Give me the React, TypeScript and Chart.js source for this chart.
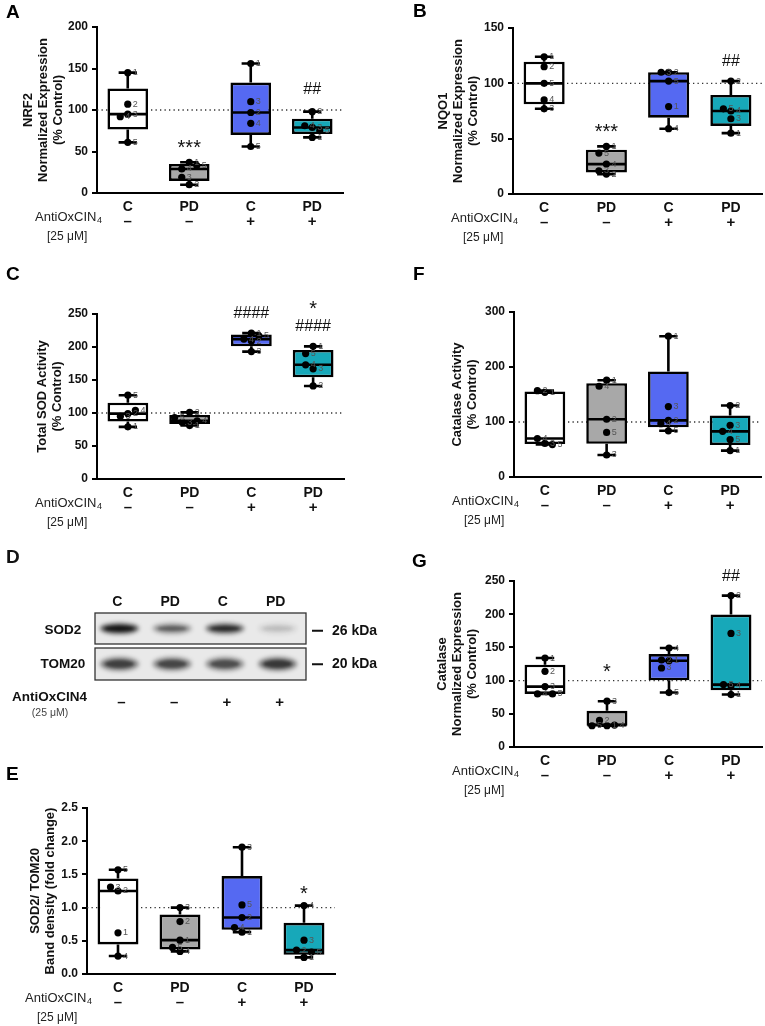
import React, { useEffect, useRef } from 'react';
import { Chart, registerables } from 'chart.js';

Chart.register(...registerables);

const FONT = '"Liberation Sans", Arial, Helvetica, sans-serif';

// ---------- shared categories ----------
const categories = ['C', 'PD', 'C', 'PD'];
const treatment = ['–', '–', '+', '+'];
const boxColors = ['#FFFFFF', '#A8A8A8', '#5569F2', '#17A8B9'];

// ---------- A: NRF2 normalized expression (% control), samples 1..5 ----------
const nrf2C = [145, 107, 95, 92, 61];
const nrf2PD = [37, 10, 19, 29, 33];
const nrf2CAox = [156, 97, 110, 84, 56];
const nrf2PDAox = [67, 98, 79, 81, 75];
const nrf2Marks = [
  { group: 1, text: '***', value: 60 },
  { group: 3, text: '##', value: 124 },
];

// ---------- B: NQO1 normalized expression ----------
const nqo1C = [124, 115, 77, 85, 100];
const nqo1PD = [43, 18, 21, 27, 37];
const nqo1CAox = [79, 110, 110, 59, 102];
const nqo1PDAox = [55, 102, 68, 75, 77];
const nqo1Marks = [
  { group: 1, text: '***', value: 60 },
  { group: 3, text: '##', value: 120 },
];

// ---------- C: Total SOD activity ----------
const sodC = [79, 99, 95, 104, 127];
const sodPD = [81, 101, 86, 88, 93];
const sodCAox = [221, 209, 193, 212, 217];
const sodPDAox = [201, 141, 167, 173, 190];
const sodMarks = [
  { group: 2, text: '####', value: 250 },
  { group: 3, text: '*', value: 264 },
  { group: 3, text: '####', value: 231 },
];

// ---------- F: Catalase activity ----------
const catC = [154, 157, 61, 70, 59];
const catPD = [176, 105, 40, 165, 81];
const catCAox = [256, 103, 128, 97, 84];
const catPDAox = [48, 130, 94, 83, 68];
const catMarks: any[] = [];

// ---------- G: Catalase normalized expression ----------
const catExpC = [134, 114, 91, 80, 80];
const catExpPD = [32, 40, 69, 33, 32];
const catExpCAox = [130, 131, 119, 149, 82];
const catExpPDAox = [79, 228, 171, 92, 94];
const catExpMarks = [
  { group: 1, text: '*', value: 120 },
  { group: 3, text: '##', value: 257 },
];

// ---------- E: SOD2 / TOM20 band density (fold change) ----------
const sod2C = [0.62, 1.25, 1.31, 0.27, 1.57];
const sod2PD = [0.51, 0.79, 1.0, 0.34, 0.4];
const sod2CAox = [0.63, 0.85, 1.91, 0.7, 1.04];
const sod2PDAox = [0.25, 0.36, 0.51, 1.03, 0.33];
const sod2Marks = [{ group: 3, text: '*', value: 1.28 }];

// ---------- D: western blot ----------
const blotLanes = ['C', 'PD', 'C', 'PD'];
const blotTreatment = ['–', '–', '+', '+'];
const blotRows = ['SOD2', 'TOM20'];
const blotMarkers = ['26 kDa', '20 kDa'];
const sod2Band = [1.0, 0.5, 0.8, 0.13];
const tom20Band = [0.66, 0.62, 0.58, 0.7];

// ---------- helpers ----------
function quartile(sorted: number[], p: number) {
  const n = sorted.length;
  const pos = (n + 1) * p;
  if (pos <= 1) return sorted[0];
  if (pos >= n) return sorted[n - 1];
  const lo = Math.floor(pos);
  return sorted[lo - 1] + (pos - lo) * (sorted[lo] - sorted[lo - 1]);
}

function boxStats(values: number[]) {
  const s = [...values].sort((a, b) => a - b);
  return {
    min: s[0],
    q1: quartile(s, 0.25),
    med: quartile(s, 0.5),
    q3: quartile(s, 0.75),
    max: s[s.length - 1],
  };
}

function swarm(cx: number, ys: number[], d: number) {
  const placed: number[][] = [];
  return ys.map((py) => {
    const steps = [0, -1, 1, -2, 2, -3, 3];
    for (const k of steps) {
      const px = cx + k * d;
      if (placed.every((p) => Math.hypot(p[0] - px, p[1] - py) >= d)) {
        placed.push([px, py]);
        return px;
      }
    }
    placed.push([cx, py]);
    return cx;
  });
}

function drawMark(ctx: any, text: string, x: number, y: number) {
  ctx.save();
  ctx.fillStyle = '#111';
  ctx.textAlign = 'center';
  ctx.textBaseline = 'middle';
  if (text.includes('*')) {
    ctx.font = `20px ${FONT}`;
    ctx.fillText(text, x, y + 5);
  } else {
    ctx.font = `16px ${FONT}`;
    ctx.fillText(text, x, y);
  }
  ctx.restore();
}

type Spec = {
  frame: { x: number; y: number; w: number; h: number };
  area: { left: number; top: number; right: number; bottom: number };
  yMax: number;
  yStep: number;
  decimals: number;
  reference: number;
  title: string[];
  titleCenter: number;
  groups: number[][];
  marks: { group: number; text: string; value: number }[];
  letter: string;
  letterPos: [number, number];
};

function makeBoxConfig(spec: Spec): any {
  const stats = spec.groups.map(boxStats);
  const { frame, area } = spec;
  const titleLH = 15;
  const plugin = {
    id: 'boxExtras',
    beforeDatasetsDraw(chart: any) {
      const { ctx, chartArea, scales } = chart;
      const yy = scales.y.getPixelForValue(spec.reference);
      ctx.save();
      ctx.strokeStyle = '#333';
      ctx.lineWidth = 1.3;
      ctx.setLineDash([1.3, 3.2]);
      ctx.beginPath();
      ctx.moveTo(chartArea.left, yy);
      ctx.lineTo(chartArea.right, yy);
      ctx.stroke();
      ctx.restore();
    },
    afterDatasetsDraw(chart: any) {
      const { ctx, scales } = chart;
      const meta = chart.getDatasetMeta(0);
      stats.forEach((s, i) => {
        const bar = meta.data[i];
        const cx = bar.x;
        const half = bar.width / 2;
        const cap = half * 0.45;
        const y = (v: number) => scales.y.getPixelForValue(v);
        ctx.save();
        ctx.strokeStyle = '#000';
        ctx.lineWidth = 2.6;
        ctx.lineCap = 'butt';
        ctx.beginPath();
        ctx.moveTo(cx, y(s.q3));
        ctx.lineTo(cx, y(s.max));
        ctx.moveTo(cx - cap, y(s.max));
        ctx.lineTo(cx + cap, y(s.max));
        ctx.moveTo(cx, y(s.q1));
        ctx.lineTo(cx, y(s.min));
        ctx.moveTo(cx - cap, y(s.min));
        ctx.lineTo(cx + cap, y(s.min));
        ctx.moveTo(cx - half + 1, y(s.med));
        ctx.lineTo(cx + half - 1, y(s.med));
        ctx.stroke();
        // points
        const vals = spec.groups[i];
        const pys = vals.map((v) => y(v));
        const pxs = swarm(cx, pys, 7.5);
        pys.forEach((py, k) => {
          ctx.fillStyle = '#000';
          ctx.beginPath();
          ctx.arc(pxs[k], py, 3.6, 0, Math.PI * 2);
          ctx.fill();
        });
        ctx.font = `9px ${FONT}`;
        ctx.fillStyle = '#555';
        ctx.textAlign = 'left';
        ctx.textBaseline = 'middle';
        pys.forEach((py, k) => {
          ctx.fillText(String(k + 1), pxs[k] + 5, py);
        });
        ctx.restore();
      });
    },
    afterDraw(chart: any) {
      const { ctx, chartArea, scales } = chart;
      const bottom = chartArea.bottom;
      const left = chartArea.left;
      ctx.save();
      ctx.fillStyle = '#111';
      ctx.textBaseline = 'middle';
      ctx.textAlign = 'center';
      ctx.font = `bold 15px ${FONT}`;
      treatment.forEach((t, i) => {
        ctx.fillText(t, scales.x.getPixelForValue(i), bottom + 29);
      });
      ctx.textAlign = 'left';
      ctx.font = `13px ${FONT}`;
      ctx.fillStyle = '#222';
      ctx.fillText('AntiOxCIN', left - 62, bottom + 24);
      const w = ctx.measureText('AntiOxCIN').width;
      ctx.font = `9px ${FONT}`;
      ctx.fillText('4', left - 62 + w + 0.5, bottom + 28);
      ctx.font = `12px ${FONT}`;
      ctx.fillText('[25 μM]', left - 50, bottom + 44);
      spec.marks.forEach((m) => {
        drawMark(ctx, m.text, scales.x.getPixelForValue(m.group), scales.y.getPixelForValue(m.value));
      });
      ctx.fillStyle = '#000';
      ctx.font = `bold 19px ${FONT}`;
      ctx.textAlign = 'left';
      ctx.fillText(spec.letter, spec.letterPos[0], spec.letterPos[1]);
      ctx.restore();
    },
  };

  return {
    type: 'bar',
    data: {
      labels: categories,
      datasets: [
        {
          data: stats.map((s) => [s.q1, s.q3]),
          backgroundColor: boxColors,
          borderColor: '#000',
          borderWidth: 2.6,
          borderSkipped: false,
          barPercentage: 0.66,
          categoryPercentage: 1,
        },
      ],
    },
    options: {
      animation: false,
      responsive: false,
      maintainAspectRatio: false,
      devicePixelRatio: 1,
      layout: {
        padding: {
          left: 0,
          top: area.top - frame.y,
          right: frame.x + frame.w - area.right,
          bottom: 0,
        },
      },
      plugins: { legend: { display: false }, tooltip: { enabled: false } },
      scales: {
        x: {
          type: 'category',
          offset: true,
          grid: { display: false, drawTicks: false },
          border: { display: true, color: '#000', width: 2 },
          ticks: {
            color: '#111',
            font: { family: FONT, size: 14, weight: 'bold', lineHeight: 1.2 },
            padding: 5.5,
            autoSkip: false,
            maxRotation: 0,
          },
          afterFit: (s: any) => {
            s.height = frame.y + frame.h - area.bottom;
          },
        },
        y: {
          min: 0,
          max: spec.yMax,
          ticks: {
            stepSize: spec.yStep,
            color: '#111',
            padding: 4,
            font: { family: FONT, size: 12, weight: 'bold' },
            callback: (v: number) => v.toFixed(spec.decimals),
          },
          grid: {
            display: true,
            drawOnChartArea: false,
            drawTicks: true,
            tickLength: 5,
            color: '#000',
            lineWidth: 2,
          },
          border: { display: true, color: '#000', width: 2 },
          title: {
            display: true,
            text: spec.title,
            color: '#111',
            font: { family: FONT, size: 13, weight: 'bold', lineHeight: titleLH / 13 },
            padding: { top: spec.titleCenter - titleLH / 2, bottom: 0 },
          },
          afterFit: (s: any) => {
            s.width = area.left - frame.x;
          },
        },
      },
    },
    plugins: [plugin],
  };
}

function makeBlotConfig(): any {
  const plugin = {
    id: 'blot',
    beforeDatasetsDraw(chart: any) {
      const { ctx, chartArea: a, scales } = chart;
      const x = scales.x;
      const y = scales.y;
      const lane = x.getPixelForValue(2) - x.getPixelForValue(1);
      const rows = [
        { top: y.getPixelForValue(2), bottom: y.getPixelForValue(1) - 2.5, data: sod2Band, h: 7 },
        { top: y.getPixelForValue(1) + 1.5, bottom: y.getPixelForValue(0), data: tom20Band, h: 10 },
      ];
      rows.forEach((r) => {
        ctx.save();
        ctx.fillStyle = '#E9E9E9';
        ctx.fillRect(a.left, r.top, a.right - a.left, r.bottom - r.top);
        ctx.beginPath();
        ctx.rect(a.left, r.top, a.right - a.left, r.bottom - r.top);
        ctx.clip();
        const cy = (r.top + r.bottom) / 2;
        r.data.forEach((d, i) => {
          const cx = x.getPixelForValue(i + 1) - 2;
          const bw = lane * 0.66;
          ctx.filter = 'blur(2px)';
          ctx.fillStyle = `rgba(25,25,25,${d * 0.75})`;
          ctx.beginPath();
          ctx.ellipse(cx, cy, bw / 2 + 2, r.h / 2 + 2, 0, 0, Math.PI * 2);
          ctx.fill();
          ctx.filter = 'blur(1.5px)';
          ctx.fillStyle = `rgba(10,10,10,${d * 0.85})`;
          ctx.beginPath();
          ctx.ellipse(cx, cy, bw / 2 - 3, r.h / 2 - 1, 0, 0, Math.PI * 2);
          ctx.fill();
        });
        ctx.filter = 'none';
        ctx.restore();
        ctx.save();
        ctx.strokeStyle = '#333';
        ctx.lineWidth = 1.3;
        ctx.strokeRect(a.left, r.top, a.right - a.left, r.bottom - r.top);
        ctx.restore();
      });
    },
    afterDraw(chart: any) {
      const { ctx, chartArea: a, scales } = chart;
      const x = scales.x;
      const y = scales.y;
      ctx.save();
      ctx.fillStyle = '#111';
      ctx.textBaseline = 'middle';
      ctx.textAlign = 'center';
      ctx.font = `bold 14px ${FONT}`;
      blotLanes.forEach((l, i) => ctx.fillText(l, x.getPixelForValue(i + 1) - 4, a.top - 11));
      ctx.font = `bold 13.5px ${FONT}`;
      const rowY = [y.getPixelForValue(1.5) + 1, y.getPixelForValue(0.5) + 1];
      blotRows.forEach((r, i) => ctx.fillText(r, 63, rowY[i]));
      ctx.textAlign = 'left';
      ctx.font = `bold 14px ${FONT}`;
      blotMarkers.forEach((m, i) => {
        ctx.fillRect(a.right + 6, rowY[i] - 1, 11, 2);
        ctx.fillText(m, a.right + 26, rowY[i]);
      });
      ctx.font = `bold 13.5px ${FONT}`;
      ctx.fillText('AntiOxCIN4', 12, a.bottom + 17);
      ctx.textAlign = 'center';
      ctx.font = `10.5px ${FONT}`;
      ctx.fillStyle = '#444';
      ctx.fillText('(25 μM)', 50, a.bottom + 33);
      ctx.fillStyle = '#111';
      ctx.font = `bold 15px ${FONT}`;
      blotTreatment.forEach((t, i) => ctx.fillText(t, x.getPixelForValue(i + 1), a.bottom + 23));
      ctx.font = `bold 19px ${FONT}`;
      ctx.textAlign = 'left';
      ctx.fillText('D', 6, 18);
      ctx.restore();
    },
  };
  return {
    type: 'scatter',
    data: {
      datasets: [
        { label: 'SOD2', data: sod2Band.map((_, i) => ({ x: i + 1, y: 1.5 })), pointRadius: 0 },
        { label: 'TOM20', data: tom20Band.map((_, i) => ({ x: i + 1, y: 0.5 })), pointRadius: 0 },
      ],
    },
    options: {
      animation: false,
      responsive: false,
      maintainAspectRatio: false,
      devicePixelRatio: 1,
      layout: { padding: { left: 95, right: 74, top: 73, bottom: 70 } },
      plugins: { legend: { display: false }, tooltip: { enabled: false } },
      scales: {
        x: { type: 'linear', min: 0.5, max: 4.5, display: false },
        y: { type: 'linear', min: 0, max: 2, display: false },
      },
    },
    plugins: [plugin],
  };
}

function ChartCanvas({ frame, config }: { frame: { x: number; y: number; w: number; h: number }; config: () => any }) {
  const ref = useRef<HTMLCanvasElement | null>(null);
  useEffect(() => {
    if (!ref.current) return;
    const chart = new Chart(ref.current, config());
    return () => chart.destroy();
  }, []);
  return (
    <canvas
      ref={ref}
      width={frame.w}
      height={frame.h}
      style={{ position: 'absolute', left: frame.x, top: frame.y, width: frame.w, height: frame.h }}
    />
  );
}

const panels: Spec[] = [
  {
    frame: { x: 0, y: 0, w: 380, h: 250 },
    area: { left: 97, top: 27, right: 343, bottom: 193 },
    yMax: 200, yStep: 50, decimals: 0, reference: 100,
    title: ['NRF2', 'Normalized Expression', '(% Control)'], titleCenter: 28,
    groups: [nrf2C, nrf2PD, nrf2CAox, nrf2PDAox], marks: nrf2Marks,
    letter: 'A', letterPos: [6, 13],
  },
  {
    frame: { x: 380, y: 0, w: 385, h: 250 },
    area: { left: 513, top: 28, right: 762, bottom: 194 },
    yMax: 150, yStep: 50, decimals: 0, reference: 100,
    title: ['NQO1', 'Normalized Expression', '(% Control)'], titleCenter: 63,
    groups: [nqo1C, nqo1PD, nqo1CAox, nqo1PDAox], marks: nqo1Marks,
    letter: 'B', letterPos: [33, 12],
  },
  {
    frame: { x: 0, y: 260, w: 380, h: 270 },
    area: { left: 97, top: 314, right: 344, bottom: 479 },
    yMax: 250, yStep: 50, decimals: 0, reference: 100,
    title: ['Total SOD Activity', '(% Control)'], titleCenter: 42,
    groups: [sodC, sodPD, sodCAox, sodPDAox], marks: sodMarks,
    letter: 'C', letterPos: [6, 15],
  },
  {
    frame: { x: 380, y: 260, w: 385, h: 270 },
    area: { left: 514, top: 312, right: 761, bottom: 477 },
    yMax: 300, yStep: 100, decimals: 0, reference: 100,
    title: ['Catalase Activity', '(% Control)'], titleCenter: 77,
    groups: [catC, catPD, catCAox, catPDAox], marks: catMarks,
    letter: 'F', letterPos: [33, 15],
  },
  {
    frame: { x: 380, y: 540, w: 385, h: 260 },
    area: { left: 514, top: 581, right: 762, bottom: 747 },
    yMax: 250, yStep: 50, decimals: 0, reference: 100,
    title: ['Catalase', 'Normalized Expression', '(% Control)'], titleCenter: 62,
    groups: [catExpC, catExpPD, catExpCAox, catExpPDAox], marks: catExpMarks,
    letter: 'G', letterPos: [32, 22],
  },
  {
    frame: { x: 0, y: 760, w: 380, h: 266 },
    area: { left: 87, top: 808, right: 335, bottom: 974 },
    yMax: 2.5, yStep: 0.5, decimals: 1, reference: 1,
    title: ['SOD2/ TOM20', 'Band density (fold change)'], titleCenter: 35,
    groups: [sod2C, sod2PD, sod2CAox, sod2PDAox], marks: sod2Marks,
    letter: 'E', letterPos: [6, 15],
  },
];

const blotFrame = { x: 0, y: 540, w: 380, h: 210 };

export default function App() {
  return (
    <div style={{ position: 'absolute', left: 0, top: 0, width: 765, height: 1026, background: '#fff', overflow: 'hidden' }}>
      {panels.map((p, i) => (
        <ChartCanvas key={i} frame={p.frame} config={() => makeBoxConfig(p)} />
      ))}
      <ChartCanvas frame={blotFrame} config={makeBlotConfig} />
    </div>
  );
}
